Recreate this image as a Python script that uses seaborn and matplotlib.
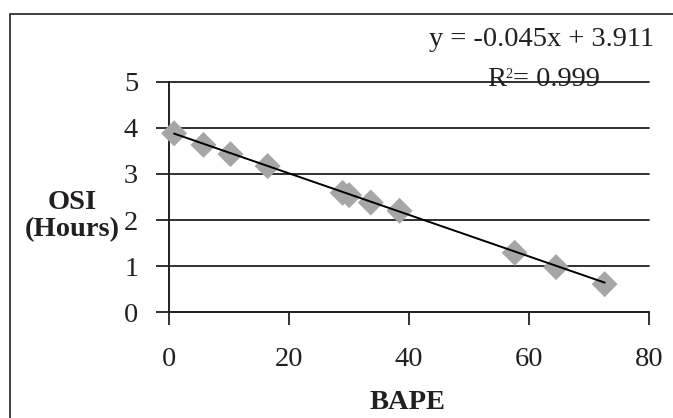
import matplotlib
matplotlib.use("Agg")
import matplotlib.pyplot as plt
import seaborn as sns
import numpy as np
import pandas as pd
from matplotlib.patches import Rectangle

# Data
bape = [0.8, 5.7, 10.2, 16.4, 28.9, 30.0, 33.6, 38.4, 57.6, 64.5, 72.6]
osi = [3.88, 3.63, 3.43, 3.17, 2.59, 2.54, 2.38, 2.20, 1.29, 0.98, 0.61]
slope = -0.045
intercept = 3.911
r2 = 0.999
x_ticks = [0, 20, 40, 60, 80]
y_ticks = [0, 1, 2, 3, 4, 5]

sns.set_theme(style="white")
plt.rcParams['font.family'] = ['Liberation Serif', 'DejaVu Serif']

df = pd.DataFrame({"BAPE": bape, "OSI": osi})
xs = np.array([min(bape), max(bape)])
line_df = pd.DataFrame({"BAPE": xs, "OSI": slope * xs + intercept})

W, H = 673, 418
FS = 20.5
fig = plt.figure(figsize=(W / 100, H / 100), dpi=100)
fig.patch.set_facecolor("white")
ax = fig.add_axes([169.3 / W, 1 - 312.3 / H, (649 - 169.3) / W, (312.3 - 81.7) / H])

dark = "#231f20"
ax.set_xlim(0, 80)
ax.set_ylim(0, 5)
ax.set_yticks(y_ticks)
ax.set_xticks(x_ticks)
for yv in y_ticks:
    ax.axhline(yv, color=dark, lw=1.3, zorder=1, clip_on=False)

sns.scatterplot(data=df, x="BAPE", y="OSI", marker="D", s=175, color="#a6a6a6",
                edgecolor="none", ax=ax, zorder=3, clip_on=False)
sns.lineplot(data=line_df, x="BAPE", y="OSI", color="black", lw=1.4, ax=ax, zorder=4)

for s in ["top", "right"]:
    ax.spines[s].set_visible(False)
ax.spines["left"].set_color(dark)
ax.spines["left"].set_linewidth(1.4)
ax.spines["bottom"].set_color(dark)
ax.spines["bottom"].set_linewidth(1.3)

ax.tick_params(axis="x", direction="out", length=9, width=1.3, color=dark,
               labelsize=FS, pad=16, labelcolor=dark, bottom=True)
ax.tick_params(axis="y", direction="out", length=9.4, width=1.3, color=dark,
               labelsize=FS, pad=13, labelcolor=dark, left=True)
ax.set_xticklabels([str(v) for v in x_ticks])
ax.set_yticklabels([str(v) for v in y_ticks])

ax.set_xlabel("BAPE", fontsize=FS, fontweight="bold", color=dark, va="center")
ax.xaxis.set_label_coords(0.4966, -0.389)
ax.set_ylabel("OSI\n(Hours)", fontsize=FS, fontweight="bold", color=dark,
              rotation=0, ha="center", va="center", linespacing=1.1)
ax.yaxis.set_label_coords(-0.202, 0.4176)

fig.text(542 / W, 1 - 40 / H, f"y = {slope:.3f}x + {intercept:.3f}", fontsize=FS,
         color=dark, ha="center", va="center")
# R^2 line with small superscript
fig.text(556 / W, 1 - 80 / H, f"= {r2:.3f}", fontsize=FS,
         color=dark, ha="center", va="center")
fig.text(506 / W, 1 - 80 / H, "R", fontsize=FS, color=dark, ha="right", va="center")
fig.text(505.5 / W, 1 - 74 / H, "2", fontsize=FS * 0.5, color=dark, ha="left", va="center")

fig.patches.append(Rectangle((10.3 / W, -0.1), 1.2, 1 - 13.5 / H + 0.1,
                             transform=fig.transFigure, fill=False,
                             edgecolor=dark, lw=1.2, zorder=0))

fig.savefig("out.png", dpi=100)
